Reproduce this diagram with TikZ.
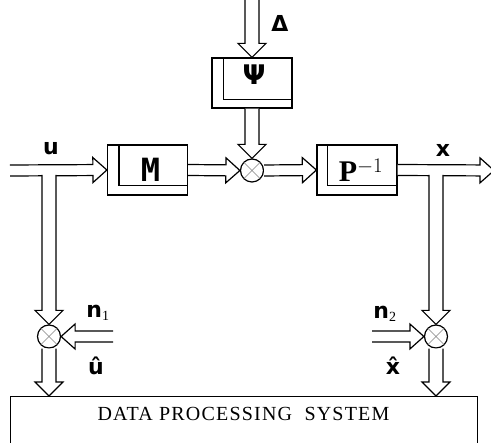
\documentclass[tikz,border=0pt]{standalone}
\usepackage{fontspec}
\setmainfont{Liberation Serif}
\newfontfamily\labelfont{DejaVu Sans}
\newfontfamily\blockfont{DejaVu Sans Mono}
\usetikzlibrary{calc}

\begin{document}
\begin{tikzpicture}[x=1pt, y=-1pt,
                    block/.style={draw, line width=1.2pt, minimum width=80pt, minimum height=50pt, inner sep=0pt},
                    summer/.style={circle, draw, line width=1.2pt, minimum size=23pt, inner sep=0pt},
                    cross/.style={gray, line width=0.5pt},
                    lbl/.style={font=\labelfont\bfseries\fontsize{22}{22}\selectfont, inner sep=0pt},
                    pipe/.style n args={3}{draw, fill=white, line width=1.2pt, line join=miter,
                      to path={($(\tikztostart)!#1!90:(\tikztotarget)$)
                        -- ($($(\tikztotarget)!#3!(\tikztostart)$)!#1!90:(\tikztotarget)$)
                        -- ($($(\tikztotarget)!#3!(\tikztostart)$)!#2!90:(\tikztotarget)$)
                        -- (\tikztotarget)
                        -- ($($(\tikztotarget)!#3!(\tikztostart)$)!#2!-90:(\tikztotarget)$)
                        -- ($($(\tikztotarget)!#3!(\tikztostart)$)!#1!-90:(\tikztotarget)$)
                        -- ($(\tikztostart)!#1!-90:(\tikztotarget)$)}},
                    hpipe/.style={pipe={5.5pt}{12.5pt}{14pt}},
                    vpipe/.style={pipe={7pt}{14pt}{14pt}}]

    \useasboundingbox (0,0) rectangle (491,443);

    % blocks
    \node[block] (psi) at (252,83)  {\hspace*{4pt}\raisebox{17pt}{\labelfont\bfseries\fontsize{27}{27}\selectfont Ψ}};
    \node[block] (m)   at (147.5,170) {\hspace*{6pt}\blockfont\bfseries\fontsize{32}{32}\selectfont M};
    \node[block] (p)   at (357,170) {\hspace*{8pt}\fontsize{30}{30}\selectfont\textbf{P}$^{-1}$};

    \draw[line width=1.2pt] ([xshift=12pt]psi.north west) |- ([yshift=9pt]psi.south east);
    \draw[line width=1.2pt] ([xshift=12pt]m.north west) |- ([yshift=10pt]m.south east);
    \draw[line width=1.2pt] ([xshift=11pt]p.north west) |- ([yshift=10pt]p.south east);

    % summing points
    \node[summer] (sum0) at (252,170.5) {};
    \node[summer] (sum1) at (49,336.5) {};
    \node[summer] (sum2) at (436,336.5) {};

    \draw[cross] (sum0.north east) -- (sum0.south west);
    \draw[cross] (sum0.north west) -- (sum0.south east);
    \draw[cross] (sum1.north east) -- (sum1.south west);
    \draw[cross] (sum1.north west) -- (sum1.south east);
    \draw[cross] (sum2.north east) -- (sum2.south west);
    \draw[cross] (sum2.north west) -- (sum2.south east);

    % data processing system
    \node[draw, line width=1pt, anchor=north, minimum width=467pt, inner xsep=0pt, inner ysep=7pt,
          text height=17pt, text depth=40pt, font=\fontsize{20}{20}\selectfont\addfontfeature{LetterSpace=6}] (dps) at (243.5,396)
          {DATA PROCESSING\ \ SYSTEM};

    % free ends
    \coordinate (din)  at (252,-2);
    \coordinate (uin)  at (10,170.5);
    \coordinate (xout) at (494,170.5);
    \coordinate (ubr)  at (49,175);
    \coordinate (xbr)  at (436,175);
    \coordinate (n1in) at (113,336.5);
    \coordinate (n2in) at (372,336.5);
    \coordinate (uhat) at (sum1.south |- dps.north);
    \coordinate (xhat) at (sum2.south |- dps.north);

    % connectors
    \draw[vpipe] (din) to (psi.north);
    \draw[vpipe] (psi.south) to (sum0.north);
    \draw[hpipe] (uin) to (m.west);
    \draw[hpipe] (m.east) to (sum0.west);
    \draw[hpipe] (sum0.east) to (p.west);
    \draw[hpipe] (p.east) to (xout);
    \draw[vpipe] (ubr) to (sum1.north);
    \draw[vpipe] (xbr) to (sum2.north);
    \draw[hpipe] (n1in) to (sum1.east);
    \draw[hpipe] (n2in) to (sum2.west);
    \draw[vpipe] (sum1.south) to (uhat);
    \draw[vpipe] (sum2.south) to (xhat);

    % labels
    \node[lbl] (dlbl)  at (280,23.5) {Δ};
    \node[lbl] (ulbl)  at (51,149)   {u};
    \node[lbl] (xlbl)  at (443,150)  {x};
    \node[lbl] (n1lbl) at (98,313)   {n\textsubscript{\normalfont\fontsize{14}{14}\selectfont 1}};
    \node[lbl] (n2lbl) at (385,314)  {n\textsubscript{\normalfont\fontsize{14}{14}\selectfont 2}};
    \node[lbl] (uhlbl) at (96,366)   {û};
    \node[lbl] (xhlbl) at (393,366)  {x̂};
\end{tikzpicture}
\end{document}
